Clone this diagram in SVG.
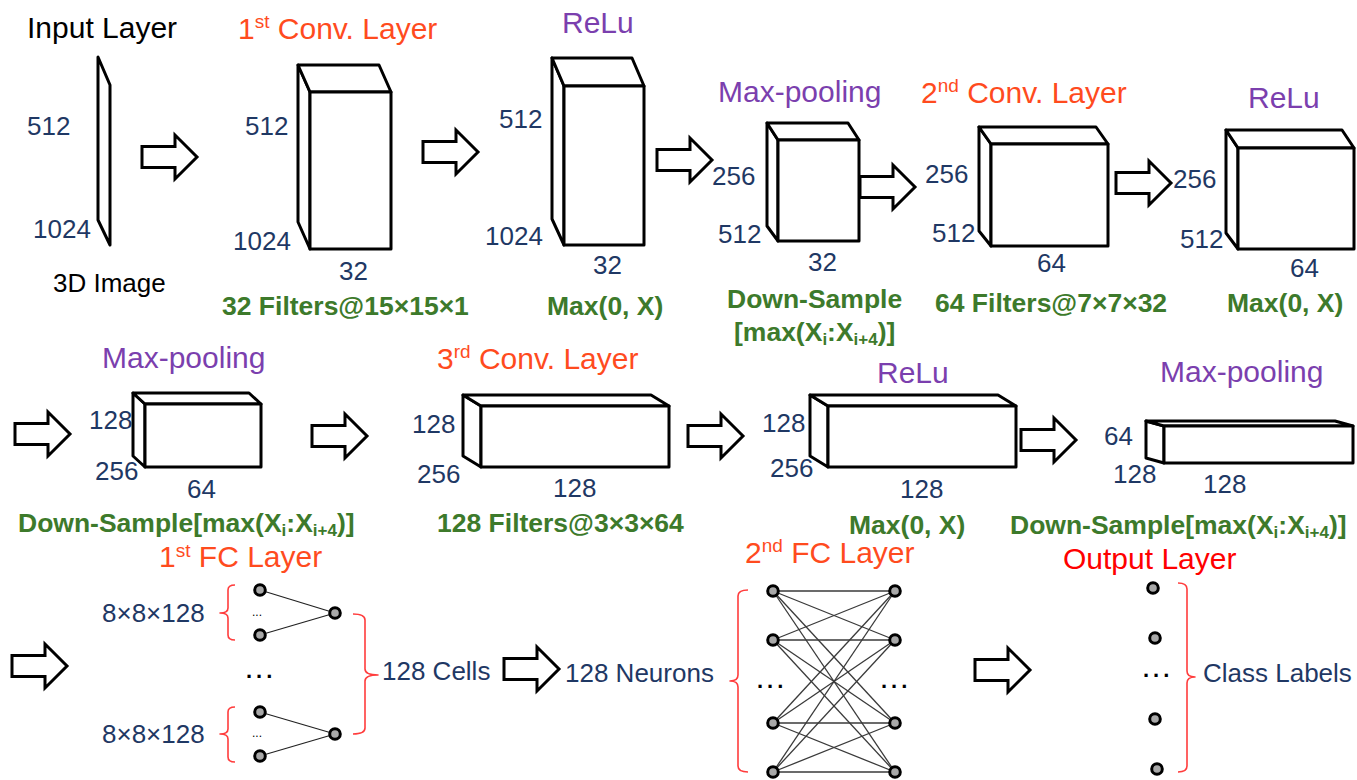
<svg xmlns="http://www.w3.org/2000/svg" xmlns:xlink="http://www.w3.org/1999/xlink" width="1357" height="780" viewBox="0 0 1357 780">
  <style>
    text { font-family: "Liberation Sans", Arial, sans-serif; }
    .title { font-size: 30px; }
    .black { fill: #000; }
    .conv { fill: #ff4b1e; }
    .out { fill: #ff0000; }
    .act { fill: #7b3fae; }
    .dim { font-size: 26px; fill: #1f3864; }
    .op { font-size: 26.5px; font-weight: bold; fill: #3d7a2b; }
    .face { fill: #fff; stroke: #000; stroke-width: 3; stroke-linejoin: round; }
    .neuron { fill: #a8a8a8; stroke: #000; stroke-width: 3; }
    .link { stroke: #222; stroke-width: 1.3; fill: none; }
    .link2 { stroke: #3a3a3a; stroke-width: 1.3; fill: none; }
    .brace { fill: none; stroke: #ff3c3c; stroke-width: 1.6; stroke-linejoin: round; }
    .dots { font-size: 22px; font-weight: bold; fill: #000; letter-spacing: 4px; }
    .sdots { font-size: 12px; fill: #000; }
  </style>
  <defs>
    <!-- hollow block arrow, origin at left end of shaft centre line -->
    <path id="arr" d="M0,-10.5 H33 V-22 L55,0 L33,22 V10.5 H0 Z" fill="#fff" stroke="#000" stroke-width="3" stroke-linejoin="miter"/>
  </defs>

  <rect width="1357" height="780" fill="#fff"/>

  <!-- ===== Row 1 ===== -->
  <g id="input-layer">
    <text class="title black" x="27" y="38">Input Layer</text>
    <polygon class="face" points="98,57 110,85 110,245 98,220"/>
    <text class="dim" x="27" y="135">512</text>
    <text class="dim" x="33" y="238">1024</text>
    <text x="53" y="292" font-size="26" fill="#000">3D Image</text>
  </g>

  <g id="conv1">
    <text class="title conv" x="238" y="39">1<tspan font-size="19" dy="-11">st</tspan><tspan dy="11"> Conv. Layer</tspan></text>
    <polygon class="face" points="310,92 298,65 298,222 310,249"/>
    <polygon class="face" points="310,92 298,65 379,65 391,92"/>
    <rect class="face" x="310" y="92" width="81" height="157"/>
    <text class="dim" x="245" y="135">512</text>
    <text class="dim" x="233" y="250">1024</text>
    <text class="dim" x="339" y="280">32</text>
    <text class="op" x="222" y="315">32 Filters@15×15×1</text>
  </g>

  <g id="relu1">
    <text class="title act" x="562" y="33">ReLu</text>
    <polygon class="face" points="564,86 552,58 552,219 564,245"/>
    <polygon class="face" points="564,86 552,58 632,58 644,86"/>
    <rect class="face" x="564" y="86" width="80" height="159"/>
    <text class="dim" x="499" y="128">512</text>
    <text class="dim" x="485" y="245">1024</text>
    <text class="dim" x="593" y="274">32</text>
    <text class="op" x="547" y="315">Max(0, X)</text>
  </g>

  <g id="maxpool1">
    <text class="title act" x="718" y="102">Max-pooling</text>
    <polygon class="face" points="778,140 767,123 767,226 778,241"/>
    <polygon class="face" points="778,140 767,123 848,123 859,140"/>
    <rect class="face" x="778" y="140" width="81" height="101"/>
    <text class="dim" x="712" y="185">256</text>
    <text class="dim" x="718" y="243">512</text>
    <text class="dim" x="808" y="271">32</text>
    <text class="op" x="727" y="308">Down-Sample</text>
    <text class="op" x="734" y="341">[max(X<tspan font-size="17" dy="4">i</tspan><tspan dy="-4">:X</tspan><tspan font-size="17" dy="4">i+4</tspan><tspan dy="-4">)]</tspan></text>
  </g>

  <g id="conv2">
    <text class="title conv" x="921" y="103">2<tspan font-size="19" dy="-11">nd</tspan><tspan dy="11"> Conv. Layer</tspan></text>
    <polygon class="face" points="991,144 979,127 979,231 991,246"/>
    <polygon class="face" points="991,144 979,127 1096,127 1108,144"/>
    <rect class="face" x="991" y="144" width="117" height="102"/>
    <text class="dim" x="925" y="183">256</text>
    <text class="dim" x="932" y="242">512</text>
    <text class="dim" x="1037" y="272">64</text>
    <text class="op" x="935" y="312">64 Filters@7×7×32</text>
  </g>

  <g id="relu2">
    <text class="title act" x="1248" y="108">ReLu</text>
    <polygon class="face" points="1238,148 1226,130 1226,233 1238,249"/>
    <polygon class="face" points="1238,148 1226,130 1342,130 1354,148"/>
    <rect class="face" x="1238" y="148" width="116" height="101"/>
    <text class="dim" x="1173" y="188">256</text>
    <text class="dim" x="1180" y="248">512</text>
    <text class="dim" x="1290" y="277">64</text>
    <text class="op" x="1227" y="312">Max(0, X)</text>
  </g>

  <!-- ===== Row 2 ===== -->
  <g id="maxpool2">
    <text class="title act" x="102" y="368">Max-pooling</text>
    <polygon class="face" points="145,404 133,393 133,456 145,467"/>
    <polygon class="face" points="145,404 133,393 249,393 261,404"/>
    <rect class="face" x="145" y="404" width="116" height="63"/>
    <text class="dim" x="89" y="429">128</text>
    <text class="dim" x="95" y="480">256</text>
    <text class="dim" x="187" y="498">64</text>
    <text class="op" x="18" y="532">Down-Sample[max(X<tspan font-size="17" dy="4">i</tspan><tspan dy="-4">:X</tspan><tspan font-size="17" dy="4">i+4</tspan><tspan dy="-4">)]</tspan></text>
  </g>

  <g id="conv3">
    <text class="title conv" x="437" y="369">3<tspan font-size="19" dy="-11">rd</tspan><tspan dy="11"> Conv. Layer</tspan></text>
    <polygon class="face" points="481,406 463,395 463,456 481,467"/>
    <polygon class="face" points="481,406 463,395 651,395 669,406"/>
    <rect class="face" x="481" y="406" width="188" height="61"/>
    <text class="dim" x="412" y="433">128</text>
    <text class="dim" x="417" y="483">256</text>
    <text class="dim" x="553" y="497">128</text>
    <text class="op" x="437" y="532">128 Filters@3×3×64</text>
  </g>

  <g id="relu3">
    <text class="title act" x="877" y="383">ReLu</text>
    <polygon class="face" points="828,406 810,395 810,456 828,467"/>
    <polygon class="face" points="828,406 810,395 998,395 1016,406"/>
    <rect class="face" x="828" y="406" width="188" height="61"/>
    <text class="dim" x="762" y="432">128</text>
    <text class="dim" x="770" y="477">256</text>
    <text class="dim" x="900" y="498">128</text>
    <text class="op" x="849" y="534">Max(0, X)</text>
  </g>

  <g id="maxpool3">
    <text class="title act" x="1160" y="382">Max-pooling</text>
    <polygon class="face" points="1164,426 1146,421 1146,458 1164,463"/>
    <polygon class="face" points="1164,426 1146,421 1335,421 1353,426"/>
    <rect class="face" x="1164" y="426" width="189" height="37"/>
    <text class="dim" x="1104" y="445">64</text>
    <text class="dim" x="1113" y="483">128</text>
    <text class="dim" x="1203" y="493">128</text>
    <text class="op" x="1010" y="534">Down-Sample[max(X<tspan font-size="17" dy="4">i</tspan><tspan dy="-4">:X</tspan><tspan font-size="17" dy="4">i+4</tspan><tspan dy="-4">)]</tspan></text>
  </g>

  <!-- ===== Row 3 ===== -->
  <g id="fc1">
    <text class="title conv" x="159" y="567">1<tspan font-size="19" dy="-10">st</tspan><tspan dy="10"> FC Layer</tspan></text>
    <text class="dim" x="102" y="622">8×8×128</text>
    <text class="dim" x="102" y="743">8×8×128</text>
    <!-- input braces -->
    <path class="brace" d="M235,585 Q228,585 228,590 V608 Q228,613 220,613 Q228,613 228,618 V635 Q228,640 235,640"/>
    <path class="brace" d="M235,707 Q228,707 228,712 V729 Q228,734 220,734 Q228,734 228,739 V757 Q228,762 235,762"/>
    <!-- output brace -->
    <path class="brace" d="M353,614 Q365,614 365,620 V669 Q365,675 378,675 Q365,675 365,681 V728 Q365,734 353,734"/>
    <line class="link" x1="260" y1="590" x2="335" y2="613"/>
    <line class="link" x1="260" y1="635" x2="335" y2="613"/>
    <line class="link" x1="260" y1="712" x2="335" y2="734"/>
    <line class="link" x1="260" y1="756" x2="335" y2="734"/>
    <circle class="neuron" cx="260" cy="590" r="5.3"/>
    <circle class="neuron" cx="260" cy="635" r="5.3"/>
    <circle class="neuron" cx="335" cy="613" r="5.3"/>
    <circle class="neuron" cx="260" cy="712" r="5.3"/>
    <circle class="neuron" cx="260" cy="756" r="5.3"/>
    <circle class="neuron" cx="335" cy="734" r="5.3"/>
    <text class="sdots" x="252" y="616">...</text>
    <text class="sdots" x="252" y="737">...</text>
    <text class="dots" x="246" y="678">...</text>
    <text class="dim" x="382" y="680">128 Cells</text>
  </g>

  <g id="fc2">
    <text class="dim" x="565" y="682">128 Neurons</text>
    <text class="title conv" x="745" y="563">2<tspan font-size="19" dy="-11">nd</tspan><tspan dy="11"> FC Layer</tspan></text>
    <path class="brace" d="M748,590 Q738,590 738,596 V675 Q738,681 730,681 Q738,681 738,687 V766 Q738,772 748,772"/>
    <g class="link2">
      <line x1="773" y1="591" x2="895" y2="591"/>
      <line x1="773" y1="591" x2="895" y2="640"/>
      <line x1="773" y1="591" x2="895" y2="723"/>
      <line x1="773" y1="591" x2="895" y2="772"/>
      <line x1="773" y1="640" x2="895" y2="591"/>
      <line x1="773" y1="640" x2="895" y2="640"/>
      <line x1="773" y1="640" x2="895" y2="723"/>
      <line x1="773" y1="640" x2="895" y2="772"/>
      <line x1="773" y1="723" x2="895" y2="591"/>
      <line x1="773" y1="723" x2="895" y2="640"/>
      <line x1="773" y1="723" x2="895" y2="723"/>
      <line x1="773" y1="723" x2="895" y2="772"/>
      <line x1="773" y1="772" x2="895" y2="591"/>
      <line x1="773" y1="772" x2="895" y2="640"/>
      <line x1="773" y1="772" x2="895" y2="723"/>
      <line x1="773" y1="772" x2="895" y2="772"/>
    </g>
    <circle class="neuron" cx="773" cy="591" r="5.3"/>
    <circle class="neuron" cx="773" cy="640" r="5.3"/>
    <circle class="neuron" cx="773" cy="723" r="5.3"/>
    <circle class="neuron" cx="773" cy="772" r="5.3"/>
    <circle class="neuron" cx="895" cy="591" r="5.3"/>
    <circle class="neuron" cx="895" cy="640" r="5.3"/>
    <circle class="neuron" cx="895" cy="723" r="5.3"/>
    <circle class="neuron" cx="895" cy="772" r="5.3"/>
    <text class="dots" x="757" y="688">...</text>
    <text class="dots" x="881" y="688">...</text>
  </g>

  <g id="output-layer">
    <text class="title out" x="1063" y="569">Output Layer</text>
    <circle class="neuron" cx="1153" cy="588" r="5.3"/>
    <circle class="neuron" cx="1155" cy="638" r="5.3"/>
    <circle class="neuron" cx="1155" cy="719" r="5.3"/>
    <circle class="neuron" cx="1157" cy="769" r="5.3"/>
    <text class="dots" x="1143" y="677">...</text>
    <path class="brace" d="M1178,583 Q1187,583 1187,589 V671 Q1187,677 1195,677 Q1187,677 1187,683 V766 Q1187,772 1178,772"/>
    <text class="dim" x="1203" y="682">Class Labels</text>
  </g>

  <!-- ===== Connectors ===== -->
  <g id="connectors">
    <use xlink:href="#arr" transform="translate(142,157)"/>
    <use xlink:href="#arr" transform="translate(423,152)"/>
    <use xlink:href="#arr" transform="translate(657,160)"/>
    <use xlink:href="#arr" transform="translate(860,187)"/>
    <use xlink:href="#arr" transform="translate(1116,183)"/>
    <use xlink:href="#arr" transform="translate(15,434)"/>
    <use xlink:href="#arr" transform="translate(312,436)"/>
    <use xlink:href="#arr" transform="translate(688,436)"/>
    <use xlink:href="#arr" transform="translate(1021,440)"/>
    <use xlink:href="#arr" transform="translate(12,666)"/>
    <use xlink:href="#arr" transform="translate(504,669)"/>
    <use xlink:href="#arr" transform="translate(975,670)"/>
  </g>
</svg>
